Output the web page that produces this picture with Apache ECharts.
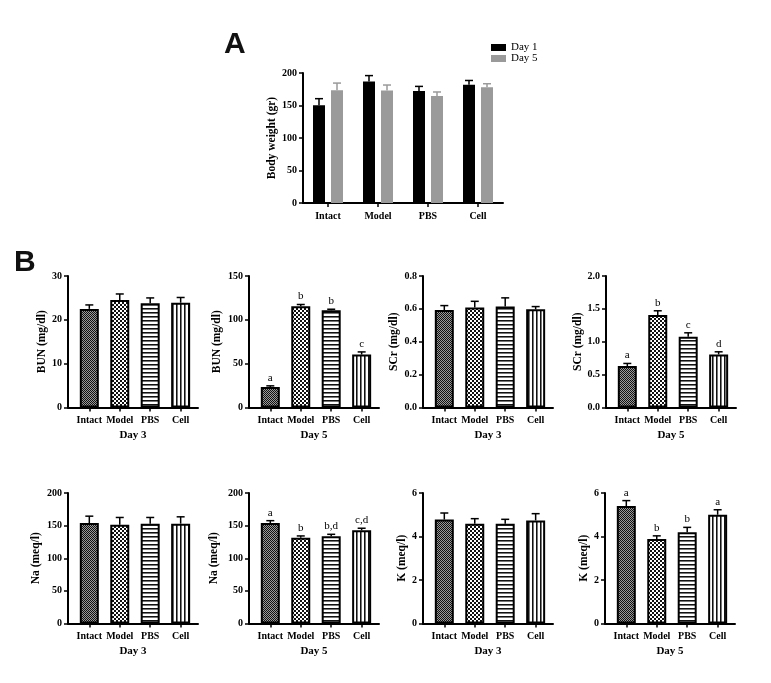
<!DOCTYPE html>
<html>
<head>
<meta charset="utf-8">
<title>Body weight and serum markers</title>
<script src="https://cdn.jsdelivr.net/npm/echarts@6.0.0/dist/echarts.min.js"></script>
<style>
  html, body { margin: 0; padding: 0; background: #fff; }
  #chart { width: 771px; height: 683px; }
</style>
</head>
<body>
<div id="chart"></div>
<script>
// groups
var groups = ['Intact', 'Model', 'PBS', 'Cell'];

// A - body weight (gr)
var weightDay1 = [150.5, 187, 172.4, 182];
var weightDay1Err = [10, 9, 7, 6.5];
var weightDay5 = [173.5, 173, 164.8, 178];
var weightDay5Err = [11, 8.5, 6, 5.5];

// B - serum markers, mean and SEM
var bunDay3 = [22.5, 24.5, 23.8, 23.9];
var bunDay3Err = [0.9, 1.4, 1.2, 1.2];
var bunDay5 = [23.5, 115.5, 110.9, 60.4];
var bunDay5Err = [1.2, 2.0, 1.2, 3.0];
var bunDay5Letters = ['a', 'b', 'b', 'c'];

var scrDay3 = [0.593, 0.608, 0.614, 0.597];
var scrDay3Err = [0.027, 0.038, 0.053, 0.017];
var scrDay5 = [0.63, 1.406, 1.076, 0.807];
var scrDay5Err = [0.04, 0.065, 0.06, 0.04];
var scrDay5Letters = ['a', 'b', 'c', 'd'];

var naDay3 = [154, 151.5, 153, 153];
var naDay3Err = [10.5, 11, 9.5, 10.5];
var naDay5 = [154, 131.6, 133.7, 142.9];
var naDay5Err = [3.6, 2.6, 3, 3.1];
var naDay5Letters = ['a', 'b', 'b,d', 'c,d'];

var kDay3 = [4.78, 4.59, 4.59, 4.74];
var kDay3Err = [0.3, 0.23, 0.2, 0.31];
var kDay5 = [5.40, 3.88, 4.19, 5.0];
var kDay5Err = [0.25, 0.15, 0.23, 0.23];
var kDay5Letters = ['a', 'b', 'b', 'a'];

var FONT = '"Liberation Serif", "Times New Roman", serif';

// fill patterns for the 4 groups
function tile(kind) {
    var c = document.createElement('canvas');
    if (kind === 'fine') {
        c.width = 2; c.height = 2;
        var ctx = c.getContext('2d');
        ctx.fillStyle = '#9a9a9a'; ctx.fillRect(0, 0, 2, 2);
        ctx.fillStyle = '#111'; ctx.fillRect(0, 0, 1, 1); ctx.fillRect(1, 1, 1, 1);
    } else if (kind === 'check') {
        c.width = 4; c.height = 4;
        var ctx = c.getContext('2d');
        ctx.fillStyle = '#fff'; ctx.fillRect(0, 0, 4, 4);
        ctx.fillStyle = '#111'; ctx.fillRect(0, 0, 2, 2); ctx.fillRect(2, 2, 2, 2);
    } else if (kind === 'hline') {
        c.width = 4; c.height = 4;
        var ctx = c.getContext('2d');
        ctx.fillStyle = '#fff'; ctx.fillRect(0, 0, 4, 4);
        ctx.fillStyle = '#111'; ctx.fillRect(0, 0, 4, 1);
        ctx.fillStyle = '#777'; ctx.fillRect(0, 1, 4, 1);
    } else {
        c.width = 4; c.height = 4;
        var ctx = c.getContext('2d');
        ctx.fillStyle = '#fff'; ctx.fillRect(0, 0, 4, 4);
        ctx.fillStyle = '#111'; ctx.fillRect(0, 0, 1, 4);
        ctx.fillStyle = '#777'; ctx.fillRect(1, 0, 1, 4);
    }
    return { image: c, repeat: 'repeat' };
}
var patterns = [tile('fine'), tile('check'), tile('hline'), tile('vline')];

var xLine = { show: true, onZero: true, lineStyle: { color: '#000', width: 2 } };
var yLine = { show: true, onZero: false, lineStyle: { color: '#000', width: 2 } };
var axisTick = { show: true, length: 4, lineStyle: { color: '#000', width: 1.5 } };
var labelStyle = { color: '#000', fontFamily: FONT, fontWeight: 'bold', fontSize: 10 };
var nameStyle = { color: '#000', fontFamily: FONT, fontWeight: 'bold', fontSize: 11.5 };

// error bar (upper only) + optional letter
function errRender(offset, color, letters) {
    return function (params, api) {
        var i = api.value(0);
        var p = api.coord([i, api.value(1)]);
        var q = api.coord([i, api.value(2)]);
        var x = p[0] + offset;
        var kids = [
            { type: 'line', shape: { x1: x, y1: p[1], x2: x, y2: q[1] }, style: { stroke: color, lineWidth: 1.5 } },
            { type: 'line', shape: { x1: x - 4, y1: q[1], x2: x + 4, y2: q[1] }, style: { stroke: color, lineWidth: 1.5 } }
        ];
        if (letters) {
            kids.push({
                type: 'text', x: x, y: q[1] - 8,
                style: { text: letters[params.dataIndex], fill: '#000', font: '11px ' + FONT, align: 'center', verticalAlign: 'middle' }
            });
        }
        return { type: 'group', children: kids };
    };
}

var option = {
    animation: false,
    backgroundColor: '#fff',
    title: [
        { text: 'A', left: 224, top: 30, padding: 0, textStyle: { fontFamily: 'Liberation Sans', fontWeight: 'bold', fontSize: 30, color: '#111' } },
        { text: 'B', left: 14, top: 248, padding: 0, textStyle: { fontFamily: 'Liberation Sans', fontWeight: 'bold', fontSize: 30, color: '#111' } }
    ],
    legend: {
        data: ['Day 1', 'Day 5'],
        orient: 'vertical',
        left: 491, top: 42, padding: 0,
        itemWidth: 15, itemHeight: 7, itemGap: 0,
        icon: 'rect',
        textStyle: { fontFamily: FONT, fontSize: 11, color: '#000', lineHeight: 10 }
    },
    grid: [], xAxis: [], yAxis: [], series: []
};

// panel A
option.grid.push({ left: 303, top: 73, width: 200, height: 130 });
option.xAxis.push({
    gridIndex: 0, type: 'category', data: groups,
    axisLine: xLine,
    axisTick: { show: true, alignWithLabel: true, length: 4, lineStyle: { color: '#000', width: 1.5 } },
    axisLabel: Object.assign({ margin: 8 }, labelStyle)
});
option.yAxis.push({
    gridIndex: 0, type: 'value', min: 0, max: 200, interval: 50,
    name: 'Body weight (gr)', nameLocation: 'middle', nameGap: 24, nameTextStyle: nameStyle,
    axisLine: yLine, axisTick: axisTick, splitLine: { show: false },
    axisLabel: Object.assign({ margin: 6 }, labelStyle)
});
option.series.push(
    { name: 'Day 1', type: 'bar', xAxisIndex: 0, yAxisIndex: 0, data: weightDay1, barWidth: 12, barGap: '50%', itemStyle: { color: '#000' } },
    { name: 'Day 5', type: 'bar', xAxisIndex: 0, yAxisIndex: 0, data: weightDay5, barWidth: 12, barGap: '50%', itemStyle: { color: '#9a9a9a' } },
    {
        type: 'custom', xAxisIndex: 0, yAxisIndex: 0, z: 5,
        data: weightDay1.map(function (v, i) { return [i, v, v + weightDay1Err[i]]; }),
        encode: { x: 0, y: [1, 2] }, renderItem: errRender(-9, '#000', null)
    },
    {
        type: 'custom', xAxisIndex: 0, yAxisIndex: 0, z: 5,
        data: weightDay5.map(function (v, i) { return [i, v, v + weightDay5Err[i]]; }),
        encode: { x: 0, y: [1, 2] }, renderItem: errRender(9, '#9a9a9a', null)
    }
);

// panels B
var panels = [
    { left: 68, top: 276, max: 30, interval: 10, dec: 0, name: 'BUN (mg/dl)', day: 'Day 3', gap: 20, vals: bunDay3, errs: bunDay3Err, letters: null },
    { left: 249, top: 276, max: 150, interval: 50, dec: 0, name: 'BUN (mg/dl)', day: 'Day 5', gap: 26, vals: bunDay5, errs: bunDay5Err, letters: bunDay5Letters },
    { left: 423, top: 276, max: 0.8, interval: 0.2, dec: 1, name: 'SCr (mg/dl)', day: 'Day 3', gap: 23, vals: scrDay3, errs: scrDay3Err, letters: null },
    { left: 606, top: 276, max: 2.0, interval: 0.5, dec: 1, name: 'SCr (mg/dl)', day: 'Day 5', gap: 21, vals: scrDay5, errs: scrDay5Err, letters: scrDay5Letters },
    { left: 68, top: 493, max: 200, interval: 50, dec: 0, name: 'Na (meq/l)', day: 'Day 3', gap: 26, vals: naDay3, errs: naDay3Err, letters: null },
    { left: 249, top: 493, max: 200, interval: 50, dec: 0, name: 'Na (meq/l)', day: 'Day 5', gap: 29, vals: naDay5, errs: naDay5Err, letters: naDay5Letters },
    { left: 423, top: 493, max: 6, interval: 2, dec: 0, name: 'K (meq/l)', day: 'Day 3', gap: 15, vals: kDay3, errs: kDay3Err, letters: null },
    { left: 605, top: 493, max: 6, interval: 2, dec: 0, name: 'K (meq/l)', day: 'Day 5', gap: 15, vals: kDay5, errs: kDay5Err, letters: kDay5Letters }
];

panels.forEach(function (p, k) {
    var gi = k + 1;
    option.grid.push({ left: p.left, top: p.top, width: 130, height: p.top < 400 ? 131.5 : 130.5 });
    option.xAxis.push({
        gridIndex: gi, type: 'value', min: -0.7, max: 3.57,
        name: p.day, nameLocation: 'middle', nameGap: 22,
        nameTextStyle: { color: '#000', fontFamily: FONT, fontWeight: 'bold', fontSize: 11 },
        axisLine: xLine,
        axisTick: Object.assign({ customValues: [0, 1, 2, 3] }, axisTick),
        splitLine: { show: false },
        axisLabel: Object.assign({
            margin: 8, customValues: [0, 1, 2, 3],
            formatter: function (v) { return groups[Math.round(v)]; }
        }, labelStyle)
    });
    option.yAxis.push({
        gridIndex: gi, type: 'value', min: 0, max: p.max, interval: p.interval,
        name: p.name, nameLocation: 'middle', nameGap: p.gap, nameTextStyle: nameStyle,
        axisLine: yLine, axisTick: axisTick, splitLine: { show: false },
        axisLabel: Object.assign({
            margin: 6,
            formatter: function (v) { return v.toFixed(p.dec); }
        }, labelStyle)
    });
    option.series.push({
        type: 'bar', xAxisIndex: gi, yAxisIndex: gi, barWidth: 19,
        data: p.vals.map(function (v, i) {
            return { value: [i, v], itemStyle: { color: patterns[i], borderColor: '#000', borderWidth: 2 } };
        })
    });
    option.series.push({
        type: 'custom', xAxisIndex: gi, yAxisIndex: gi, z: 5,
        data: p.vals.map(function (v, i) { return [i, v, v + p.errs[i]]; }),
        encode: { x: 0, y: [1, 2] },
        renderItem: errRender(0, '#000', p.letters)
    });
});

var chart = echarts.init(document.getElementById('chart'));
chart.setOption(option);
</script>
</body>
</html>
